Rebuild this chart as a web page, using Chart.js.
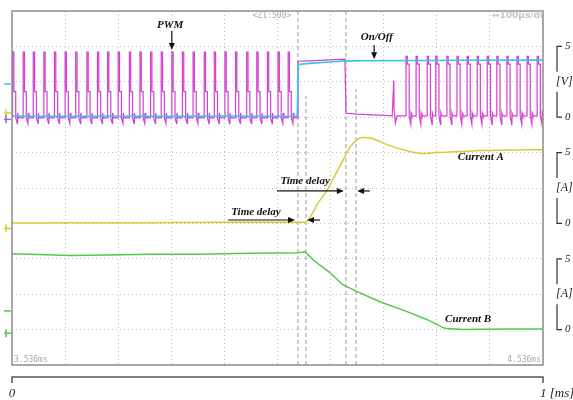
<!DOCTYPE html>
<html>
<head>
<meta charset="utf-8">
<script src="https://cdn.jsdelivr.net/npm/chart.js@4/dist/chart.umd.min.js"></script>
<style>
  body { margin: 0; background: #fff; }
  canvas { display: block; }
</style>
</head>
<body>
<canvas id="scope" width="573" height="400"></canvas>
<script>
// === DATA (time in ms) ===
// PWM pulse starts before and after the on/off hold
const pwmPre = [0.001, 0.021, 0.040, 0.060, 0.080, 0.100, 0.120, 0.141, 0.161, 0.180, 0.200, 0.221, 0.241,
  0.261, 0.281, 0.301, 0.321, 0.341, 0.362, 0.381, 0.401, 0.421, 0.442, 0.461, 0.481, 0.501, 0.520];
const pwmPost = [0.742, 0.761, 0.782, 0.798, 0.819, 0.838, 0.857, 0.876, 0.895, 0.913, 0.932, 0.951, 0.970, 0.989];
// one pulse: time offset and level [V]
const pulseShapeT = [0, 0, 0.0025, 0.0025, 0.006, 0.006, 0.009, 0.0095, 0.011];
const pulsePreV = [-0.05, 4.6, 4.6, 1.8, 1.8, -0.05, -0.45, 0.3, -0.05];
const pulsePostV = [0.1, 4.3, 4.3, 3.75, 3.75, 0.1, -0.5, 0.3, 0.1];
// PWM signal during the on/off hold
const pwmHoldT = [0.538, 0.5386, 0.56, 0.60, 0.627, 0.629, 0.65, 0.69, 0.716, 0.719, 0.7195, 0.722, 0.725];
const pwmHoldV = [-0.05, 3.95, 3.98, 4.05, 4.1, 0.28, 0.22, 0.15, 0.1, 2.6, 0.6, -0.4, 0.1];

// On/Off signal [V]
const onOffT = [0, 0.1, 0.2, 0.3, 0.4, 0.5, 0.537, 0.5395, 0.56, 0.60, 0.627, 0.75, 0.85, 1.0];
const onOffV = [0.08, 0.06, 0.08, 0.06, 0.08, 0.07, 0.07, 3.72, 3.8, 3.9, 3.98, 4.0, 4.02, 4.03];

// Current A [A]
const curAT = [0, 0.1, 0.2, 0.3, 0.4, 0.5, 0.553, 0.561, 0.576, 0.593, 0.608, 0.623, 0.636, 0.648, 0.661,
  0.678, 0.712, 0.75, 0.774, 0.8, 0.844, 0.881, 0.938, 1.0];
const curAVal = [0.02, 0.05, 0.04, 0.06, 0.08, 0.08, 0.08, 0.42, 1.41, 2.32, 3.38, 4.44, 5.35, 5.85, 6.06,
  5.99, 5.49, 5.07, 4.93, 5.0, 5.07, 5.14, 5.18, 5.21];

// Current B [A]
const curBT = [0, 0.05, 0.109, 0.18, 0.26, 0.35, 0.448, 0.539, 0.552, 0.567, 0.599, 0.623, 0.650, 0.693,
  0.744, 0.782, 0.812, 0.819, 0.85, 0.881, 0.94, 1.0];
const curBVal = [5.35, 5.3, 5.23, 5.27, 5.32, 5.33, 5.39, 5.42, 5.49, 4.93, 4.01, 3.17, 2.68, 1.97,
  1.27, 0.70, 0.14, 0.07, 0.0, 0.02, 0.04, 0.04];

// scope cursors (time, top in divisions)
const cursorT = [0.5386, 0.5537, 0.629, 0.648];
const cursorTop = [10, 7.6, 10, 7.8];

// annotations
const noteText = ["PWM", "On/Off", "Current A", "Current B", "Time delay", "Time delay"];
const noteT = [0.298, 0.687, 0.883, 0.859, 0.4595, 0.552];
const noteVal = [6.48, 5.63, 4.69, 0.75, 0.8, 2.99];
const noteAxis = ["yV", "yV", "yA", "yB", "yA", "yA"];
const arrowFromT = [0.301, 0.682, 0.407, 0.580, 0.499, 0.674];
const arrowToT = [0.301, 0.682, 0.533, 0.5556, 0.625, 0.650];
const arrowFromVal = [6.1, 5.1, 0.24, 0.24, 2.29, 2.29];
const arrowToVal = [4.75, 4.1, 0.24, 0.24, 2.29, 2.29];
const arrowAxis = ["yV", "yV", "yA", "yA", "yA", "yA"];

const bracketAxes = ["yV", "yA", "yB"];
const bracketUnits = ["[V]", "[A]", "[A]"];
const bracketTicks = ["5", "0"];
const timeLabels = ["0", "1 [ms]"];

const pairs = (ts, vs) => ts.map((t, i) => ({ x: t, y: vs[i] }));

function expandPulses(starts, shapeV) {
  const pts = [];
  starts.forEach(t0 => pulseShapeT.forEach((dt, i) => pts.push({ x: t0 + dt, y: shapeV[i] })));
  return pts;
}

const pwmPoints = [
  ...expandPulses(pwmPre, pulsePreV),
  ...pairs(pwmHoldT, pwmHoldV),
  ...expandPulses(pwmPost, pulsePostV)
];

const cursorSets = cursorT.map((t, i) => ({
  data: [{ x: t, y: 0 }, { x: t, y: cursorTop[i] }],
  yAxisID: "yDiv",
  borderColor: "#9a9a9a",
  borderWidth: 1,
  borderDash: [4, 3],
  order: 9
}));

const serif = "'Liberation Serif', 'DejaVu Serif', serif";

function drawArrow(ctx, x1, y1, x2, y2) {
  const ang = Math.atan2(y2 - y1, x2 - x1);
  ctx.beginPath();
  ctx.moveTo(x1, y1);
  ctx.lineTo(x2 - 5 * Math.cos(ang), y2 - 5 * Math.sin(ang));
  ctx.stroke();
  ctx.beginPath();
  ctx.moveTo(x2, y2);
  ctx.lineTo(x2 - 7 * Math.cos(ang) + 3 * Math.sin(ang), y2 - 7 * Math.sin(ang) - 3 * Math.cos(ang));
  ctx.lineTo(x2 - 7 * Math.cos(ang) - 3 * Math.sin(ang), y2 - 7 * Math.sin(ang) + 3 * Math.cos(ang));
  ctx.closePath();
  ctx.fill();
}

const scopeDecor = {
  id: "scopeDecor",
  afterDatasetsDraw(chart) {
    const { ctx, scales } = chart;
    const xs = scales.x;
    ctx.save();
    ctx.fillStyle = "#111";
    ctx.strokeStyle = "#111";
    ctx.lineWidth = 1.2;
    ctx.font = `bold italic 11px ${serif}`;
    ctx.textAlign = "center";
    ctx.textBaseline = "middle";
    noteText.forEach((txt, i) => {
      ctx.fillText(txt, xs.getPixelForValue(noteT[i]), scales[noteAxis[i]].getPixelForValue(noteVal[i]));
    });
    arrowFromT.forEach((t, i) => {
      const s = scales[arrowAxis[i]];
      drawArrow(ctx, xs.getPixelForValue(t), s.getPixelForValue(arrowFromVal[i]),
        xs.getPixelForValue(arrowToT[i]), s.getPixelForValue(arrowToVal[i]));
    });
    ctx.restore();
  },
  afterDraw(chart) {
    const { ctx, chartArea: area, scales } = chart;
    const xs = scales.x;
    ctx.save();

    // screen frame
    ctx.strokeStyle = "#8f8f8f";
    ctx.lineWidth = 1.5;
    ctx.strokeRect(area.left, area.top, area.right - area.left, area.bottom - area.top);

    // scope readouts
    ctx.font = "8px 'DejaVu Sans Mono', monospace";
    ctx.fillStyle = "#a8a8a8";
    ctx.textBaseline = "middle";
    ctx.textAlign = "center";
    ctx.fillText("<Z1:500>", area.left + 260, area.top + 5);
    ctx.textAlign = "left";
    ctx.fillText("3.536ms", area.left + 2, area.bottom - 5);
    ctx.textAlign = "right";
    ctx.fillText("4.536ms", area.right - 2, area.bottom - 5);
    ctx.save();
    ctx.beginPath();
    ctx.rect(area.left, area.top, area.right - area.left, 20);
    ctx.clip();
    ctx.font = "bold 9px 'DejaVu Sans', sans-serif";
    ctx.fillStyle = "#c4c4c4";
    ctx.textAlign = "left";
    ctx.fillText("\u2194100\u03bcs/div", area.right - 51, area.top + 5);
    ctx.restore();

    // channel markers on the left edge
    const mark = (color, y, arrow) => {
      ctx.strokeStyle = color;
      ctx.fillStyle = color;
      ctx.lineWidth = 1.5;
      ctx.beginPath();
      ctx.moveTo(area.left - 8, y);
      ctx.lineTo(area.left - 1, y);
      ctx.stroke();
      if (arrow) {
        ctx.beginPath();
        ctx.moveTo(area.left - 6, y - 4);
        ctx.lineTo(area.left - 6, y + 4);
        ctx.stroke();
      }
    };
    mark("#39c6e3", scales.yV.getPixelForValue(2.35), false);
    mark("#d6cc3a", scales.yV.getPixelForValue(0.3), true);
    mark("#8a6ae0", scales.yV.getPixelForValue(-0.15), true);
    mark("#d6cc3a", scales.yA.getPixelForValue(-0.35), true);
    mark("#52c94a", scales.yB.getPixelForValue(1.32), false);
    mark("#52c94a", scales.yB.getPixelForValue(-0.25), true);

    // right-hand brackets with 0 / 5 and units
    ctx.strokeStyle = "#333";
    ctx.fillStyle = "#222";
    ctx.lineWidth = 1.2;
    const bx = area.right + 14;
    bracketAxes.forEach((id, i) => {
      const s = scales[id];
      const y5 = s.getPixelForValue(Number(bracketTicks[0]));
      const y0 = s.getPixelForValue(Number(bracketTicks[1]));
      const ym = (y5 + y0) / 2;
      ctx.beginPath();
      ctx.moveTo(bx + 5, y5);
      ctx.lineTo(bx, y5);
      ctx.lineTo(bx, ym - 10);
      ctx.moveTo(bx, ym + 10);
      ctx.lineTo(bx, y0);
      ctx.lineTo(bx + 5, y0);
      ctx.stroke();
      ctx.font = `italic 11px ${serif}`;
      ctx.textAlign = "left";
      ctx.textBaseline = "middle";
      ctx.fillText(bracketTicks[0], bx + 8, y5);
      ctx.fillText(bracketTicks[1], bx + 8, y0);
      ctx.font = `italic 12px ${serif}`;
      ctx.fillText(bracketUnits[i], bx - 1, ym);
    });

    // time axis below the screen
    const ty = area.bottom + 12;
    const x0 = xs.getPixelForValue(0);
    const x1 = xs.getPixelForValue(1);
    ctx.strokeStyle = "#555";
    ctx.lineWidth = 1.5;
    ctx.beginPath();
    ctx.moveTo(x0, ty + 6);
    ctx.lineTo(x0, ty);
    ctx.lineTo(x1, ty);
    ctx.lineTo(x1, ty + 6);
    ctx.stroke();
    ctx.font = `italic 13px ${serif}`;
    ctx.fillStyle = "#222";
    ctx.textBaseline = "middle";
    ctx.textAlign = "center";
    ctx.fillText(timeLabels[0], x0, ty + 17);
    ctx.textAlign = "left";
    ctx.fillText(timeLabels[1], x1 - 3, ty + 17);

    ctx.restore();
  }
};

const gridLine = {
  display: true,
  color: "#bdbdbd",
  lineWidth: 1,
  drawTicks: false
};

new Chart(document.getElementById("scope"), {
  type: "line",
  data: {
    datasets: [
      {
        data: pairs(onOffT, onOffV),
        yAxisID: "yV",
        borderColor: "#39c6e3",
        borderWidth: 1.6,
        order: 0
      },
      {
        data: pwmPoints,
        yAxisID: "yV",
        borderColor: "#d33fd3",
        borderWidth: 1.2,
        order: 1
      },
      {
        data: pairs(curAT, curAVal),
        yAxisID: "yA",
        borderColor: "#d6cc3a",
        borderWidth: 1.5,
        cubicInterpolationMode: "monotone",
        order: 2
      },
      {
        data: pairs(curBT, curBVal),
        yAxisID: "yB",
        borderColor: "#52c94a",
        borderWidth: 1.5,
        order: 3
      },
      ...cursorSets
    ]
  },
  options: {
    responsive: false,
    animation: false,
    parsing: true,
    elements: { point: { radius: 0 }, line: { tension: 0 } },
    layout: { padding: { left: 12, right: 30, top: 11, bottom: 35 } },
    plugins: { legend: { display: false }, tooltip: { enabled: false } },
    scales: {
      x: {
        type: "linear",
        min: 0,
        max: 1,
        ticks: { display: false, stepSize: 0.1 },
        grid: gridLine,
        border: { display: false, dash: [1, 3] }
      },
      yDiv: {
        type: "linear",
        position: "left",
        min: 0,
        max: 10,
        ticks: { display: false, stepSize: 1 },
        grid: gridLine,
        border: { display: false, dash: [1, 3] }
      },
      yV: { display: false, min: -17.5, max: 7.5 },
      yA: { display: false, min: -10, max: 15 },
      yB: { display: false, min: -2.5, max: 22.5 }
    }
  },
  plugins: [scopeDecor]
});
</script>
</body>
</html>
